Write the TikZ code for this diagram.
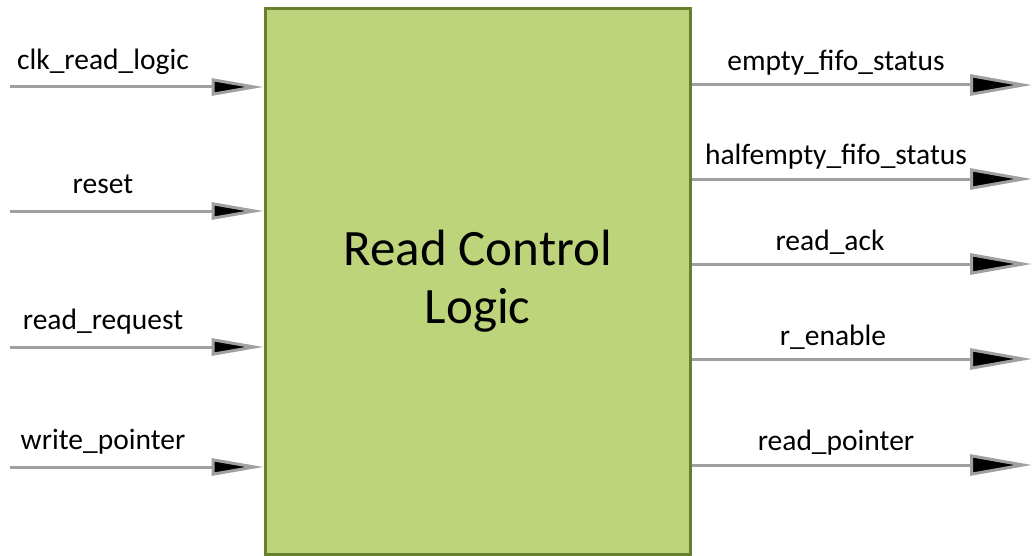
\documentclass[tikz,border=0pt]{standalone}
\usepackage{fontspec}
\setmainfont{Carlito}
\usetikzlibrary{arrows.meta}
\definecolor{boxfill}{RGB}{190,212,122}
\definecolor{boxline}{RGB}{102,128,44}
\definecolor{sigline}{RGB}{160,160,160}
\tikzset{
  inarrow/.style={draw=sigline, line width=3pt, -{Triangle[length=52pt,width=17pt,fill=black]}},
  outarrow/.style={draw=sigline, line width=3pt, -{Triangle[length=62pt,width=21pt,fill=black]}},
  siglabel/.style={anchor=base, inner sep=0pt, font=\fontsize{29.5}{35}\selectfont},
  mainbox/.style={draw=boxline, fill=boxfill, line width=3pt, minimum width=425.5pt, minimum height=546pt, inner sep=0pt, align=center, font=\fontsize{51}{58}\selectfont}
}
\begin{document}
\begin{tikzpicture}[x=1pt,y=-1pt]
\useasboundingbox (0,0) rectangle (1032,556);
\node[mainbox] (box) at (477.75,281.5) {Read Control\\Logic};
% inputs
\coordinate (i1) at (10,87);
\coordinate (i2) at (10,211);
\coordinate (i3) at (10,347);
\coordinate (i4) at (10,467);
\draw[inarrow] (i1) -- (i1 -| box.west);
\draw[inarrow] (i2) -- (i2 -| box.west);
\draw[inarrow] (i3) -- (i3 -| box.west);
\draw[inarrow] (i4) -- (i4 -| box.west);
\node[siglabel] (l1) at (103,69.5) {clk\_read\_logic};
\node[siglabel] (l2) at (103,193.5) {reset};
\node[siglabel] (l3) at (103,329.5) {read\_request};
\node[siglabel] (l4) at (103,449.5) {write\_pointer};
% outputs
\coordinate (o1) at (1032,85);
\coordinate (o2) at (1032,179);
\coordinate (o3) at (1032,264);
\coordinate (o4) at (1032,359);
\coordinate (o5) at (1032,465);
\draw[outarrow] (o1 -| box.east) -- (o1);
\draw[outarrow] (o2 -| box.east) -- (o2);
\draw[outarrow] (o3 -| box.east) -- (o3);
\draw[outarrow] (o4 -| box.east) -- (o4);
\draw[outarrow] (o5 -| box.east) -- (o5);
\node[siglabel] (r1) at (836,70.5) {empty\_fifo\_status};
\node[siglabel] (r2) at (836,164.5) {halfempty\_fifo\_status};
\node[siglabel] (r3) at (830,250.5) {read\_ack};
\node[siglabel] (r4) at (833,345.5) {r\_enable};
\node[siglabel] (r5) at (836,450.5) {read\_pointer};
\end{tikzpicture}
\end{document}
